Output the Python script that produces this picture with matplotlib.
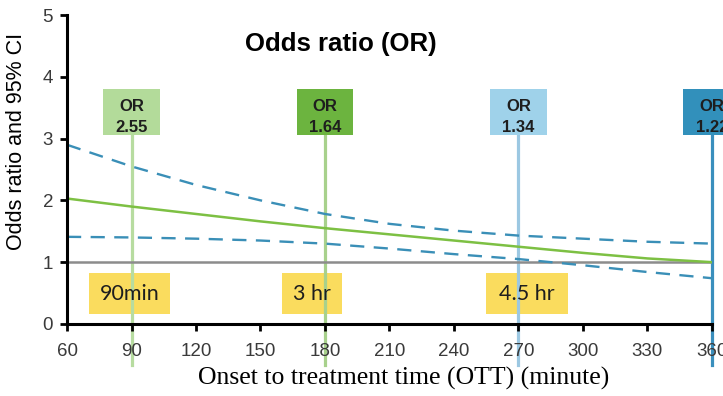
import matplotlib
matplotlib.use("Agg")
import matplotlib.pyplot as plt
from matplotlib.patches import Rectangle
import numpy as np

# Data
ott = [60, 90, 120, 150, 180, 210, 240, 270, 300, 330, 360]
or_est = [2.03, 1.90, 1.78, 1.66, 1.55, 1.45, 1.35, 1.25, 1.15, 1.06, 1.00]
ci_upper = [2.90, 2.55, 2.25, 2.00, 1.78, 1.62, 1.51, 1.43, 1.38, 1.33, 1.30]
ci_lower = [1.41, 1.40, 1.38, 1.35, 1.30, 1.22, 1.13, 1.05, 0.95, 0.84, 0.74]

marker_times = [90, 180, 270, 360]
marker_or = ["2.55", "1.64", "1.34", "1.22"]
marker_line_colors = ["#b7dca0", "#a8d18c", "#9cc8e2", "#3a8fbd"]
marker_box_colors = ["#b3db9a", "#6cb43f", "#9fd2ea", "#3290bb"]

window_labels = ["90min", "3 hr", "4.5 hr"]
window_centers = [89, 174, 274]

xticks = [60, 90, 120, 150, 180, 210, 240, 270, 300, 330, 360]
yticks = [0, 1, 2, 3, 4, 5]

fig = plt.figure(figsize=(7.23, 3.96), dpi=100)
ax = fig.add_axes([0.0927, 0.182, 0.892, 0.78])
ax.set_xlim(60, 360)
ax.set_ylim(0, 5)

for s in ["top", "right"]:
    ax.spines[s].set_visible(False)
for s in ["left", "bottom"]:
    ax.spines[s].set_linewidth(2.2)
    ax.spines[s].set_color("black")
    ax.spines[s].set_zorder(2.5)

ax.set_xticks(xticks)
ax.set_yticks(yticks)
ax.tick_params(axis="both", length=5, width=2, color="black",
               labelsize=13.5, labelcolor="#3a3a3a")
ax.tick_params(axis="x", pad=9)
ax.tick_params(axis="y", pad=5)
for lab in ax.get_xticklabels() + ax.get_yticklabels():
    lab.set_fontfamily("Liberation Sans")

# reference line at OR = 1
ax.plot([60, 360], [1, 1], color="#8c8c8c", lw=1.8, zorder=1.8)

# curves
ax.plot(ott, or_est, color="#7dc043", lw=1.8, zorder=2)
ax.plot(ott, ci_upper, color="#3a8fb7", lw=1.7, ls=(0, (6, 4)), zorder=2)
ax.plot(ott, ci_lower, color="#3a8fb7", lw=1.7, ls=(0, (6, 4)), zorder=2)

# vertical markers with OR boxes
bw = 26.5
for t, txt, lc, bc in zip(marker_times, marker_or, marker_line_colors, marker_box_colors):
    ax.plot([t, t], [3.06, -0.66], color=lc, lw=2.3, zorder=1.5, clip_on=False)
    ax.add_patch(Rectangle((t - bw / 2, 3.06), bw, 0.74, facecolor=bc,
                           edgecolor="none", zorder=3, clip_on=False))
    ax.text(t, 3.35, "OR\n" + txt, ha="center", va="center", fontsize=12,
            fontweight="bold", color="#1e1e1e", family="Liberation Sans",
            linespacing=1.55, zorder=4, clip_on=False)

# treatment window labels
for c, txt in zip(window_centers, window_labels):
    w = 38 if txt != "3 hr" else 28
    ax.add_patch(Rectangle((c - w / 2, 0.16), w, 0.66, facecolor="#fadc5e",
                           edgecolor="none", zorder=1.2))
    ax.text(c, 0.49, txt, ha="center", va="center", fontsize=15.5,
            color="#1e1e1e", family="Lato", zorder=3)

ax.text(0.425, 0.905, "Odds ratio (OR)", transform=ax.transAxes, ha="center",
        va="center", fontsize=18.5, fontweight="bold", family="Liberation Sans")

ax.set_ylabel("Odds ratio and 95% CI", fontsize=15.5, family="Liberation Sans")
ax.yaxis.set_label_coords(-0.062, 0.59)
ax.set_xlabel("Onset to treatment time (OTT) (minute)", fontsize=18.5,
              family="Liberation Serif")
ax.xaxis.set_label_coords(0.522, -0.14)

fig.savefig("out.png", dpi=100)
